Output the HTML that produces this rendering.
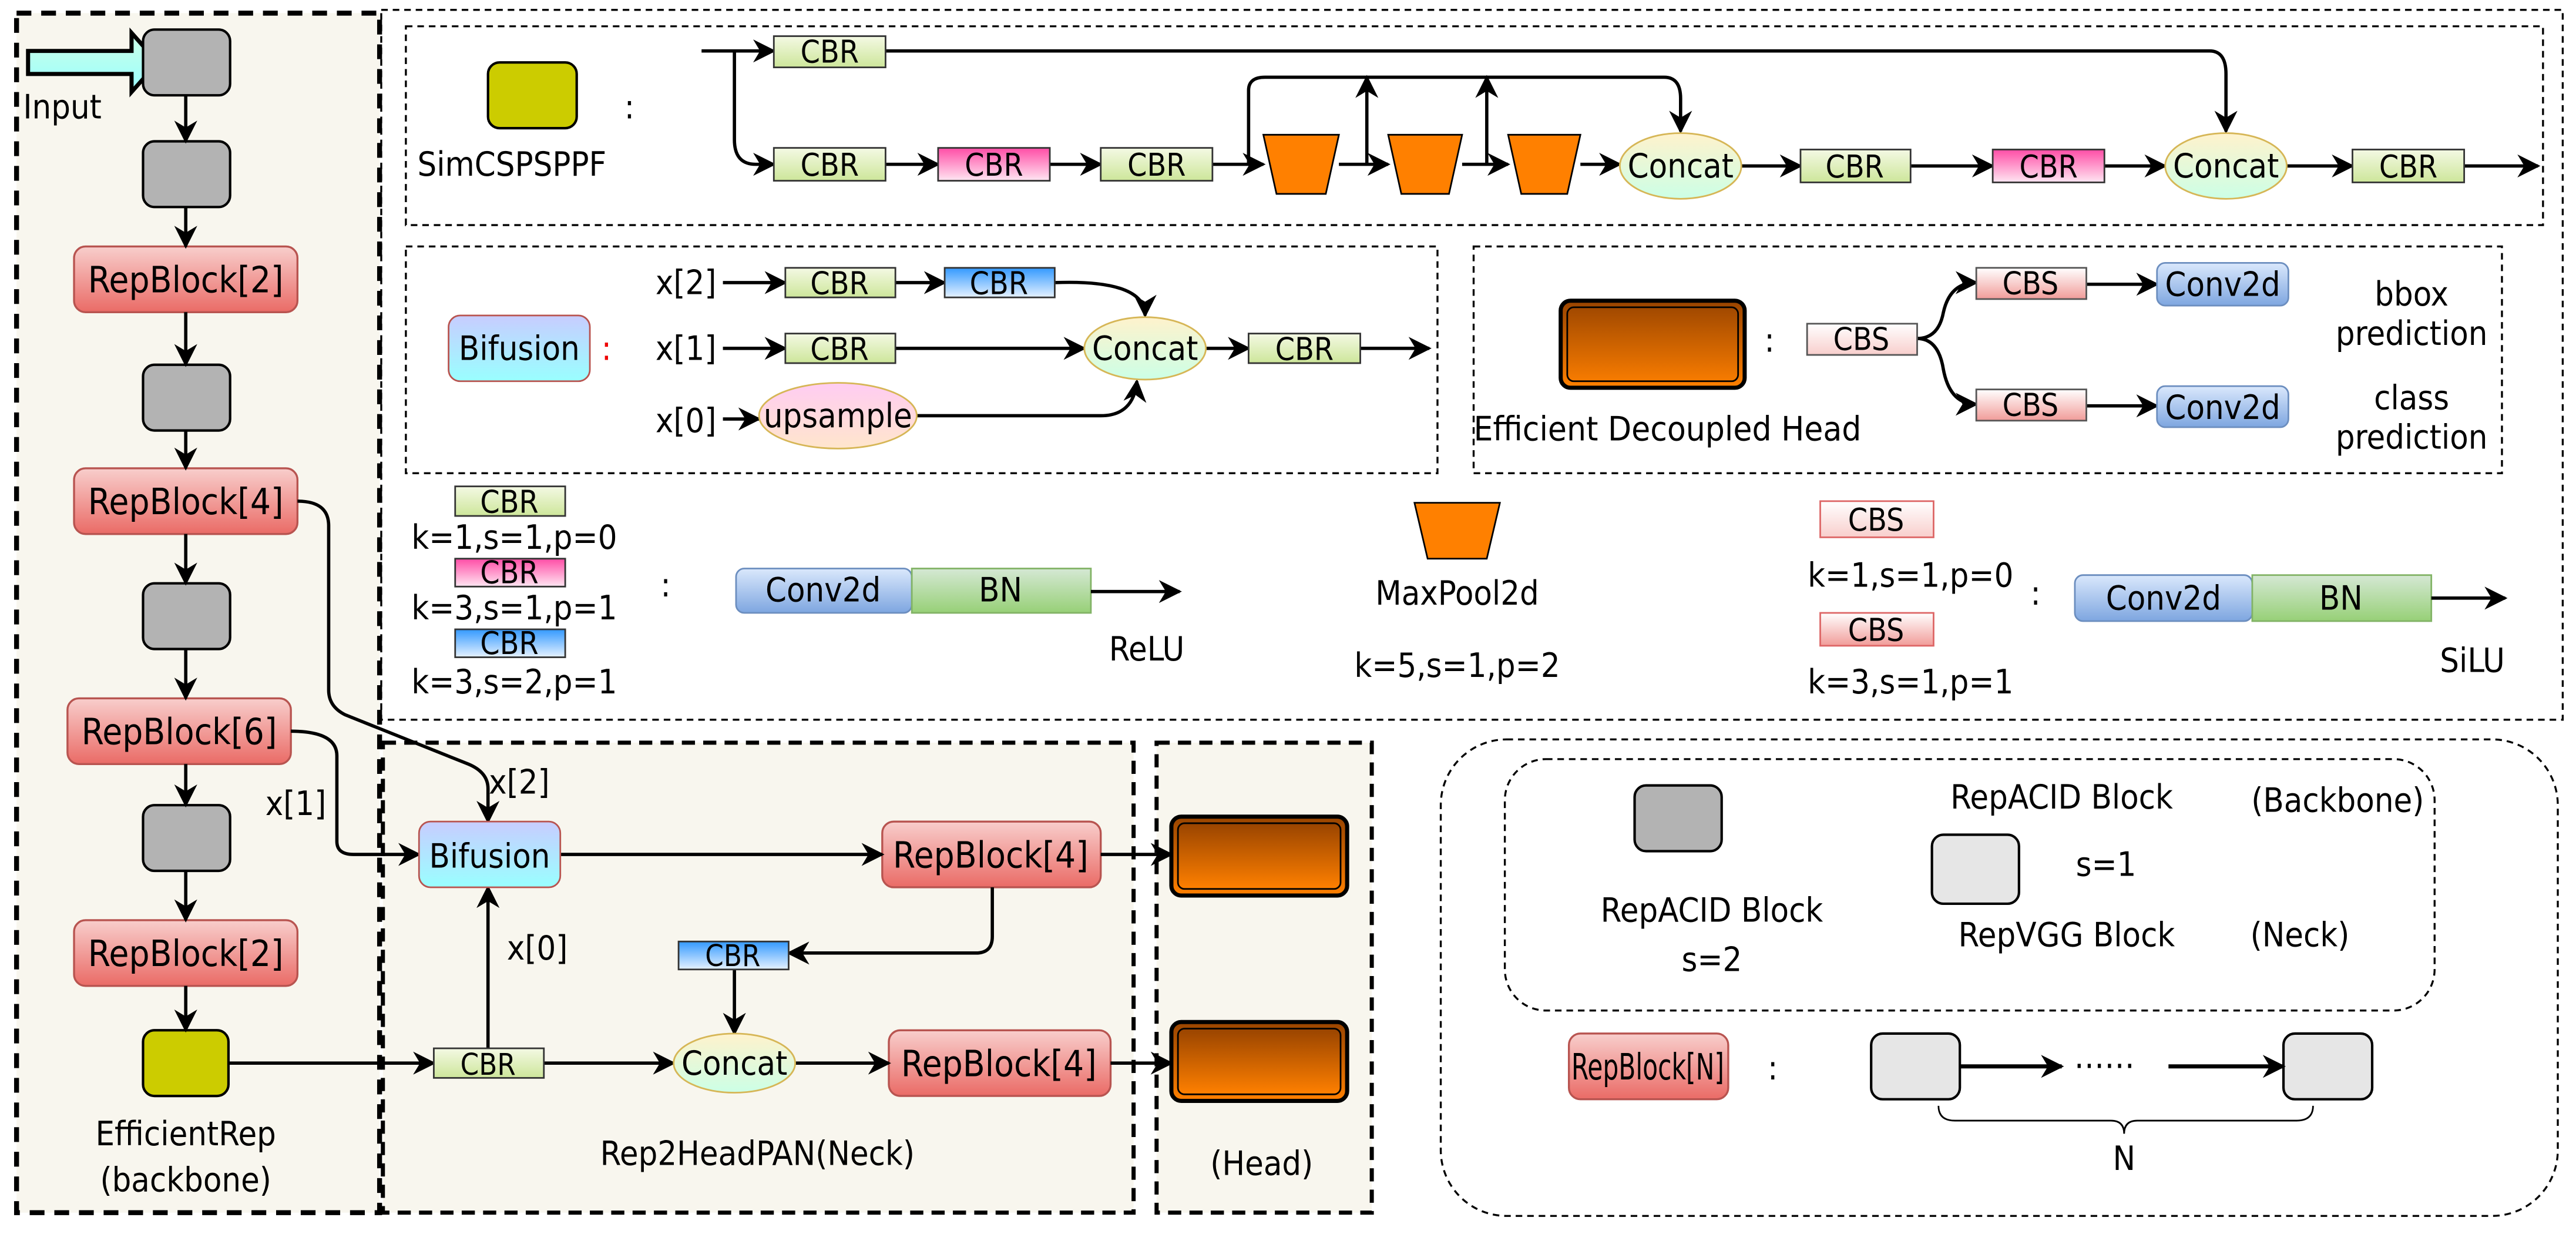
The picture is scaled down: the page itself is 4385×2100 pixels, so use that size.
<!DOCTYPE html>
<html><head><meta charset="utf-8"><style>html,body{margin:0;padding:0;background:#fff}svg{display:block}</style></head>
<body>
<svg xmlns="http://www.w3.org/2000/svg" width="4385" height="2100" viewBox="0 0 1568 751" font-family="DejaVu Sans Condensed, DejaVu Sans, Liberation Sans, sans-serif" font-size="20.5">
<defs>
<marker id="b" viewBox="0 0 10 10" refX="9" refY="5" markerWidth="14" markerHeight="14" orient="auto" markerUnits="userSpaceOnUse"><path d="M0,0 L10,5 L0,10 L3,5z" fill="#000"/></marker>
<linearGradient id="gG" x1="0" y1="0" x2="0" y2="1"><stop offset="0" stop-color="#f4f9e4"/><stop offset="1" stop-color="#cde69a"/></linearGradient>
<linearGradient id="gP" x1="0" y1="0" x2="0" y2="1"><stop offset="0" stop-color="#ff4da6"/><stop offset="1" stop-color="#ffe6f2"/></linearGradient>
<linearGradient id="gB" x1="0" y1="0" x2="0" y2="1"><stop offset="0" stop-color="#3399ff"/><stop offset="1" stop-color="#e6f2ff"/></linearGradient>
<linearGradient id="gR" x1="0" y1="0" x2="0" y2="1"><stop offset="0" stop-color="#f8cecc"/><stop offset="1" stop-color="#ea6b66"/></linearGradient>
<linearGradient id="gS" x1="0" y1="0" x2="0" y2="1"><stop offset="0" stop-color="#fff"/><stop offset="1" stop-color="#f8cecc"/></linearGradient>
<linearGradient id="gS2" x1="0" y1="0" x2="0" y2="1"><stop offset="0" stop-color="#fff"/><stop offset="1" stop-color="#f19c99"/></linearGradient>
<linearGradient id="gO" x1="0" y1="0" x2="0" y2="1"><stop offset="0" stop-color="#994400"/><stop offset="1" stop-color="#ff8000"/></linearGradient>
<linearGradient id="gBi" x1="0" y1="0" x2="0" y2="1"><stop offset="0" stop-color="#c8ccff"/><stop offset="1" stop-color="#99ffff"/></linearGradient>
<linearGradient id="gC" x1="0" y1="0" x2="0" y2="1"><stop offset="0" stop-color="#fff2cc"/><stop offset="1" stop-color="#ccffe6"/></linearGradient>
<linearGradient id="gU" x1="0" y1="0" x2="0" y2="1"><stop offset="0" stop-color="#ffccf2"/><stop offset="1" stop-color="#ffe6cc"/></linearGradient>
<linearGradient id="gCv" x1="0" y1="0" x2="0" y2="1"><stop offset="0" stop-color="#dae8fc"/><stop offset="1" stop-color="#7ea6e0"/></linearGradient>
<linearGradient id="gBN" x1="0" y1="0" x2="0" y2="1"><stop offset="0" stop-color="#d5e8d4"/><stop offset="1" stop-color="#97d077"/></linearGradient>
<linearGradient id="gIn" x1="0" y1="0" x2="0" y2="1"><stop offset="0" stop-color="#ccffe6"/><stop offset="1" stop-color="#99ffff"/></linearGradient>
</defs>

<rect x="10" y="8" width="221" height="730" fill="#f8f6ee" stroke="#000" stroke-width="3" stroke-dasharray="9,6"/>
<rect x="232" y="6" width="1328" height="432" fill="none" stroke="#000" stroke-width="1.2" stroke-dasharray="4,3"/>
<rect x="247" y="16" width="1301" height="121" fill="none" stroke="#000" stroke-width="1.2" stroke-dasharray="4,3"/>
<rect x="247" y="150" width="628" height="138" fill="none" stroke="#000" stroke-width="1.2" stroke-dasharray="4,3"/>
<rect x="897" y="150" width="626" height="138" fill="none" stroke="#000" stroke-width="1.2" stroke-dasharray="4,3"/>
<rect x="233" y="452" width="457" height="286" fill="#f8f6ee" stroke="#000" stroke-width="2.5" stroke-dasharray="8,5"/>
<rect x="704" y="452" width="131" height="286" fill="#f8f6ee" stroke="#000" stroke-width="2.5" stroke-dasharray="8,5"/>
<rect x="877" y="450" width="680" height="290" rx="40" fill="none" stroke="#000" stroke-width="1.2" stroke-dasharray="4,3"/>
<rect x="916" y="462" width="566" height="153" rx="25" fill="none" stroke="#000" stroke-width="1.2" stroke-dasharray="4,3"/>

<path d="M17,31 H80 V20 L96,38 L80,56 V45 H17z" fill="url(#gIn)" stroke="#000" stroke-width="2.5"/>
<text x="14" y="72">Input</text>
<g stroke="#000" stroke-width="1.5" fill="#b3b3b3">
<rect x="87" y="18" width="53" height="40" rx="7"/>
<rect x="87" y="86" width="53" height="40" rx="7"/>
<rect x="87" y="222" width="53" height="40" rx="7"/>
<rect x="87" y="355" width="53" height="40" rx="7"/>
<rect x="87" y="490" width="53" height="40" rx="7"/>
</g>
<g stroke="#b85450" stroke-width="1.2" fill="url(#gR)">
<rect x="45" y="150" width="136" height="40" rx="7"/>
<rect x="45" y="285" width="136" height="40" rx="7"/>
<rect x="41" y="425" width="136" height="40" rx="7"/>
<rect x="45" y="560" width="136" height="40" rx="7"/>
<rect x="537" y="500" width="133" height="40" rx="7"/>
<rect x="541" y="627" width="135" height="40" rx="7"/>
<rect x="955" y="629" width="97" height="40" rx="7"/>
</g>
<g font-size="22" text-anchor="middle">
<text x="113" y="178">RepBlock[2]</text>
<text x="113" y="313">RepBlock[4]</text>
<text x="109" y="453">RepBlock[6]</text>
<text x="113" y="588">RepBlock[2]</text>
<text x="603" y="528">RepBlock[4]</text>
<text x="608" y="655">RepBlock[4]</text>
<text x="1003" y="657" textLength="93" lengthAdjust="spacingAndGlyphs">RepBlock[N]</text>
</g>
<rect x="87" y="627" width="52" height="40" rx="7" fill="#cccc00" stroke="#000" stroke-width="1.5"/>
<text x="113" y="697" text-anchor="middle">EfficientRep</text>
<text x="113" y="725" text-anchor="middle">(backbone)</text>
<g stroke="#000" stroke-width="2" fill="none" marker-end="url(#b)">
<path d="M113,58 V86"/><path d="M113,126 V150"/><path d="M113,190 V222"/><path d="M113,262 V285"/>
<path d="M113,325 V355"/><path d="M113,395 V425"/><path d="M113,465 V490"/><path d="M113,530 V560"/><path d="M113,600 V627"/>
<path d="M181,305 Q200,305 200,320 V420 Q200,430 210,435 L285,465 Q297,470 297,480 V500"/>
<path d="M177,445 Q205,445 205,460 V512 Q205,520 215,520 H255"/>
<path d="M341,520 H537"/>
<path d="M670,520 H713"/>
<path d="M604,540 V570 Q604,580 594,580 H480"/>
<path d="M447,590 V629"/>
<path d="M139,647 H264"/>
<path d="M297,638 V540"/>
<path d="M331,647 H410"/>
<path d="M484,647 H541"/>
<path d="M676,647 H713"/>
</g>
<rect x="255" y="500" width="86" height="40" rx="7" fill="url(#gBi)" stroke="#b85450"/>
<text x="298" y="528" text-anchor="middle">Bifusion</text>
<rect x="413" y="573" width="67" height="17" fill="url(#gB)" stroke="#333"/>
<text x="446" y="588" text-anchor="middle" font-size="18">CBR</text>
<rect x="264" y="638" width="67" height="18" fill="url(#gG)" stroke="#333"/>
<text x="297" y="654" text-anchor="middle" font-size="18">CBR</text>
<ellipse cx="447" cy="647" rx="37" ry="18" fill="url(#gC)" stroke="#d6b656"/>
<text x="447" y="654" text-anchor="middle">Concat</text>
<text x="316" y="483" text-anchor="middle">x[2]</text>
<text x="180" y="496" text-anchor="middle">x[1]</text>
<text x="327" y="584" text-anchor="middle">x[0]</text>
<text x="461" y="709" text-anchor="middle">Rep2HeadPAN(Neck)</text>
<text x="768" y="715" text-anchor="middle">(Head)</text>
<g fill="url(#gO)" stroke="#000">
<rect x="713" y="497" width="107" height="48" rx="6" stroke-width="2.5"/>
<rect x="717" y="501" width="99" height="40" rx="4" stroke-width="1"/>
<rect x="713" y="622" width="107" height="48" rx="6" stroke-width="2.5"/>
<rect x="717" y="626" width="99" height="40" rx="4" stroke-width="1"/>
</g>

<rect x="297" y="38" width="54" height="40" rx="7" fill="#cccc00" stroke="#000" stroke-width="1.5"/>
<text x="254" y="107">SimCSPSPPF</text>
<text x="380" y="72">:</text>
<g stroke="#000" stroke-width="2" fill="none" marker-end="url(#b)">
<path d="M427,31 H471"/>
<path d="M447,31 V85 Q447,100 460,100 H471"/>
<path d="M539,100 H571"/><path d="M639,100 H670"/><path d="M738,100 H769"/>
<path d="M539,31 H1345 Q1355,31 1355,45 V80"/>
<path d="M760,100 V55 Q760,47 770,47 H1013 Q1023,47 1023,60 V80"/>
<path d="M815,100 H845"/><path d="M890,100 H918"/><path d="M962,100 H986"/>
<path d="M832,100 V47"/><path d="M905,100 V47"/>
<path d="M1060,101 H1096"/><path d="M1163,101 H1213"/><path d="M1281,101 H1318"/><path d="M1392,101 H1432"/><path d="M1500,101 H1545"/>
</g>
<g stroke="#333" stroke-width="1">
<rect x="471" y="22" width="68" height="19" fill="url(#gG)"/>
<rect x="471" y="90" width="68" height="20" fill="url(#gG)"/>
<rect x="571" y="90" width="68" height="20" fill="url(#gP)"/>
<rect x="670" y="90" width="68" height="20" fill="url(#gG)"/>
<rect x="1096" y="91" width="67" height="20" fill="url(#gG)"/>
<rect x="1213" y="91" width="68" height="20" fill="url(#gP)"/>
<rect x="1432" y="91" width="68" height="20" fill="url(#gG)"/>
</g>
<g text-anchor="middle" font-size="19">
<text x="505" y="38">CBR</text><text x="505" y="107">CBR</text><text x="605" y="107">CBR</text><text x="704" y="107">CBR</text>
<text x="1129" y="108">CBR</text><text x="1247" y="108">CBR</text><text x="1466" y="108">CBR</text>
</g>
<g fill="#ff8000" stroke="#000" stroke-width="1">
<path d="M769,82 H815 L807,118 H777z"/>
<path d="M845,82 H890 L882,118 H853z"/>
<path d="M918,82 H962 L954,118 H926z"/>
<path d="M861,306 H913 L905,340 H869z"/>
</g>
<ellipse cx="1023" cy="101" rx="37" ry="20" fill="url(#gC)" stroke="#d6b656"/>
<text x="1023" y="108" text-anchor="middle">Concat</text>
<ellipse cx="1355" cy="101" rx="37" ry="20" fill="url(#gC)" stroke="#d6b656"/>
<text x="1355" y="108" text-anchor="middle">Concat</text>

<rect x="273" y="192" width="86" height="40" rx="7" fill="url(#gBi)" stroke="#b85450"/>
<text x="316" y="219" text-anchor="middle">Bifusion</text>
<text x="366" y="219" fill="#e00">:</text>
<text x="399" y="179">x[2]</text><text x="399" y="219">x[1]</text><text x="399" y="263">x[0]</text>
<g stroke="#000" stroke-width="2" fill="none" marker-end="url(#b)">
<path d="M440,172 H478"/><path d="M545,172 H575"/><path d="M440,212 H478"/><path d="M440,255 H462"/>
<path d="M642,172 Q697,170 697,192"/>
<path d="M545,212 H660"/>
<path d="M558,253 H670 Q690,253 692,232"/>
<path d="M734,212 H760"/><path d="M828,212 H870"/>
</g>
<rect x="478" y="163" width="67" height="18" fill="url(#gG)" stroke="#333"/>
<rect x="575" y="163" width="67" height="18" fill="url(#gB)" stroke="#333"/>
<rect x="478" y="203" width="67" height="18" fill="url(#gG)" stroke="#333"/>
<rect x="760" y="203" width="68" height="18" fill="url(#gG)" stroke="#333"/>
<ellipse cx="510" cy="253" rx="48" ry="20" fill="url(#gU)" stroke="#d6b656"/>
<ellipse cx="697" cy="212" rx="37" ry="19" fill="url(#gC)" stroke="#d6b656"/>
<g text-anchor="middle">
<text x="511" y="179" font-size="19">CBR</text><text x="608" y="179" font-size="19">CBR</text><text x="511" y="219" font-size="19">CBR</text><text x="794" y="219" font-size="19">CBR</text>
<text x="510" y="260">upsample</text><text x="697" y="219">Concat</text>
</g>

<rect x="950" y="183" width="112" height="53" rx="6" fill="url(#gO)" stroke="#000" stroke-width="2.5"/>
<rect x="954" y="187" width="104" height="45" rx="4" fill="none" stroke="#000" stroke-width="1"/>
<text x="1074" y="214">:</text>
<text x="1015" y="268" text-anchor="middle" textLength="236" lengthAdjust="spacingAndGlyphs">Efficient Decoupled Head</text>
<g stroke="#000" stroke-width="2" fill="none" marker-end="url(#b)">
<path d="M1167,206 Q1180,206 1183,190 Q1187,172 1203,172"/>
<path d="M1167,206 Q1180,206 1183,225 Q1187,246 1203,246"/>
<path d="M1270,173 H1313"/><path d="M1270,247 H1313"/>
</g>
<rect x="1100" y="197" width="67" height="19" fill="url(#gS)" stroke="#555"/>
<rect x="1203" y="163" width="67" height="19" fill="url(#gS2)" stroke="#555"/>
<rect x="1203" y="237" width="67" height="19" fill="url(#gS2)" stroke="#555"/>
<rect x="1313" y="160" width="80" height="26" rx="5" fill="url(#gCv)" stroke="#6c8ebf"/>
<rect x="1313" y="235" width="80" height="25" rx="5" fill="url(#gCv)" stroke="#6c8ebf"/>
<g text-anchor="middle">
<text x="1133" y="213" font-size="19">CBS</text><text x="1236" y="179" font-size="19">CBS</text><text x="1236" y="253" font-size="19">CBS</text>
<text x="1353" y="180">Conv2d</text><text x="1353" y="255">Conv2d</text>
<text x="1468" y="186">bbox</text><text x="1468" y="210">prediction</text>
<text x="1468" y="249">class</text><text x="1468" y="273">prediction</text>
</g>

<rect x="277" y="296" width="67" height="18" fill="url(#gG)" stroke="#333"/>
<rect x="277" y="340" width="67" height="17" fill="url(#gP)" stroke="#333"/>
<rect x="277" y="383" width="67" height="17" fill="url(#gB)" stroke="#333"/>
<g text-anchor="middle">
<text x="310" y="312" font-size="19">CBR</text><text x="310" y="355" font-size="19">CBR</text><text x="310" y="398" font-size="19">CBR</text>
<text x="313" y="334">k=1,s=1,p=0</text><text x="313" y="377">k=3,s=1,p=1</text><text x="313" y="422">k=3,s=2,p=1</text>
</g>
<text x="402" y="363">:</text>
<rect x="448" y="346" width="107" height="27" rx="5" fill="url(#gCv)" stroke="#6c8ebf"/>
<rect x="555" y="346" width="109" height="27" fill="url(#gBN)" stroke="#82b366"/>
<text x="501" y="366" text-anchor="middle">Conv2d</text><text x="609" y="366" text-anchor="middle">BN</text>
<path d="M664,360 H718" stroke="#000" stroke-width="2" marker-end="url(#b)"/>
<text x="698" y="402" text-anchor="middle">ReLU</text>
<text x="887" y="368" text-anchor="middle">MaxPool2d</text>
<text x="887" y="412" text-anchor="middle">k=5,s=1,p=2</text>
<rect x="1108" y="305" width="69" height="22" fill="url(#gS)" stroke="#d66"/>
<rect x="1108" y="373" width="69" height="20" fill="url(#gS2)" stroke="#d66"/>
<g text-anchor="middle">
<text x="1142" y="323" font-size="19">CBS</text><text x="1142" y="390" font-size="19">CBS</text>
<text x="1163" y="357">k=1,s=1,p=0</text><text x="1163" y="422">k=3,s=1,p=1</text>
</g>
<text x="1236" y="368">:</text>
<rect x="1263" y="350" width="108" height="28" rx="5" fill="url(#gCv)" stroke="#6c8ebf"/>
<rect x="1371" y="350" width="109" height="28" fill="url(#gBN)" stroke="#82b366"/>
<text x="1317" y="371" text-anchor="middle">Conv2d</text><text x="1425" y="371" text-anchor="middle">BN</text>
<path d="M1480,364 H1525" stroke="#000" stroke-width="2" marker-end="url(#b)"/>
<text x="1505" y="409" text-anchor="middle">SiLU</text>

<rect x="995" y="478" width="53" height="40" rx="7" fill="#b3b3b3" stroke="#000" stroke-width="1.5"/>
<rect x="1176" y="508" width="53" height="42" rx="7" fill="#e6e6e6" stroke="#000" stroke-width="1.5"/>
<text x="1255" y="492" text-anchor="middle">RepACID Block</text>
<text x="1423" y="494" text-anchor="middle">(Backbone)</text>
<text x="1282" y="533" text-anchor="middle">s=1</text>
<text x="1042" y="561" text-anchor="middle">RepACID Block</text>
<text x="1042" y="591" text-anchor="middle">s=2</text>
<text x="1258" y="576" text-anchor="middle">RepVGG Block</text>
<text x="1400" y="576" text-anchor="middle">(Neck)</text>
<text x="1076" y="657">:</text>
<rect x="1139" y="629" width="54" height="40" rx="7" fill="#e6e6e6" stroke="#000" stroke-width="1.5"/>
<rect x="1390" y="629" width="54" height="40" rx="7" fill="#e6e6e6" stroke="#000" stroke-width="1.5"/>
<path d="M1193,649 H1255" stroke="#000" stroke-width="2.5" marker-end="url(#b)"/>
<path d="M1320,649 H1390" stroke="#000" stroke-width="2.5" marker-end="url(#b)"/>
<text x="1281" y="650" text-anchor="middle">……</text>
<path d="M1180,673 Q1180,682 1190,682 H1285 Q1293,682 1293,690 Q1293,682 1301,682 H1398 Q1408,682 1408,673" fill="none" stroke="#000" stroke-width="1"/>
<text x="1293" y="712" text-anchor="middle">N</text>
</svg>
</body></html>
